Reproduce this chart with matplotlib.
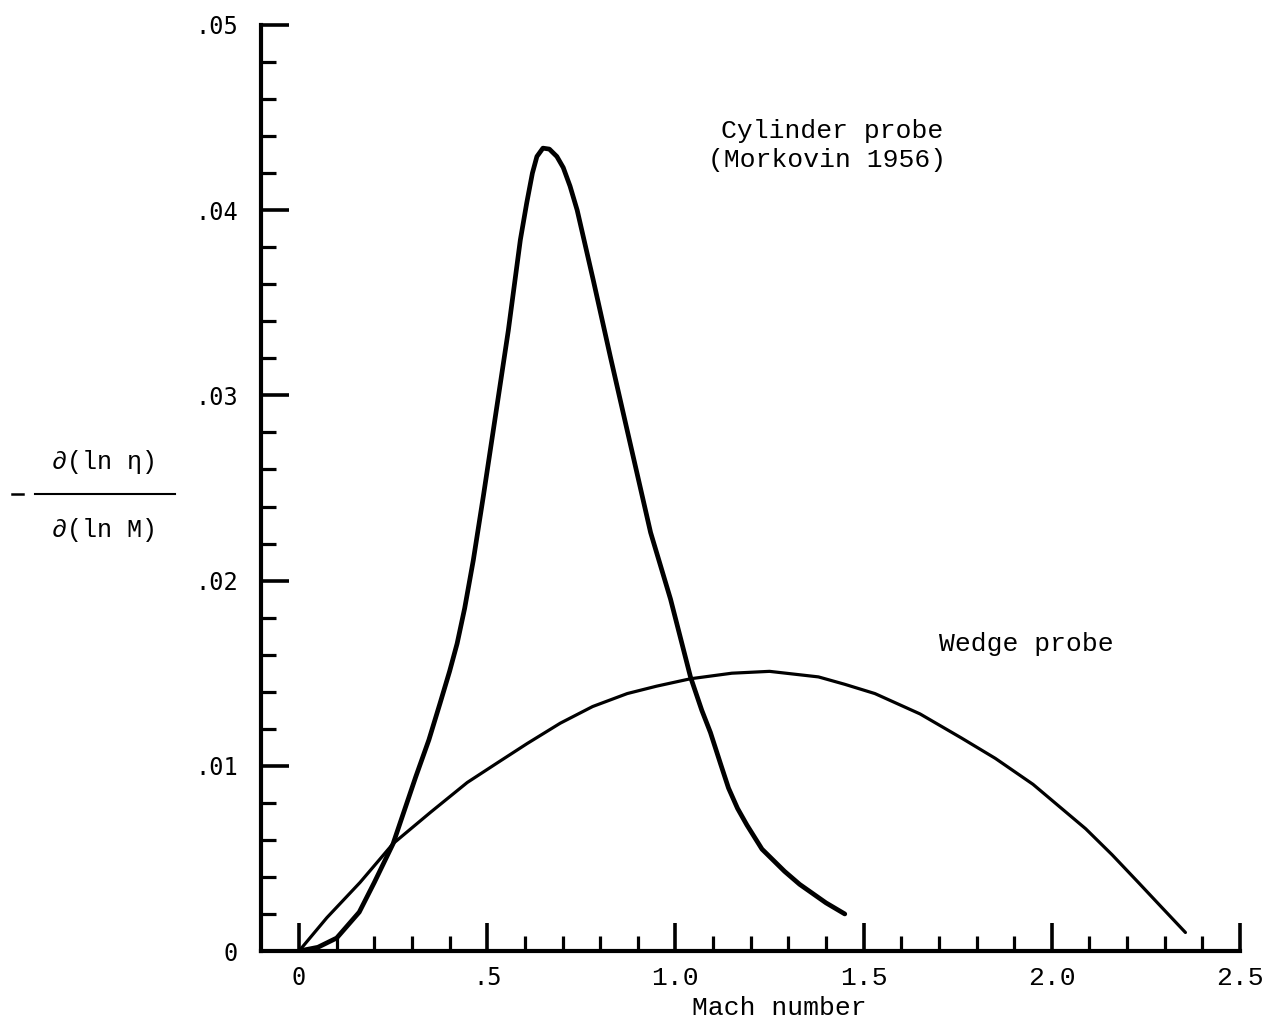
import matplotlib
matplotlib.use('Agg')
import matplotlib.pyplot as plt
import numpy as np
from matplotlib.lines import Line2D

# values
cyl_mach = [0, 0.05, 0.10, 0.16, 0.20, 0.25, 0.31, 0.345, 0.375, 0.40, 0.42, 0.44, 0.463,
            0.49, 0.516, 0.556, 0.588, 0.605, 0.62, 0.632, 0.648, 0.665, 0.685, 0.702,
            0.72, 0.739, 0.782, 0.827, 0.872, 0.934, 0.987, 1.04, 1.07, 1.093, 1.12,
            1.141, 1.165, 1.19, 1.23, 1.29, 1.33, 1.40, 1.45]
cyl_val = [0, 0.0002, 0.0007, 0.0021, 0.0037, 0.0058, 0.0094, 0.0114, 0.0134, 0.0151,
           0.0166, 0.0185, 0.0211, 0.0246, 0.0281, 0.0335, 0.0384, 0.0404, 0.0420,
           0.0429, 0.04335, 0.0433, 0.0429, 0.0423, 0.0413, 0.0400, 0.0362, 0.0321,
           0.0281, 0.0226, 0.0190, 0.0148, 0.0130, 0.0118, 0.0101, 0.0088, 0.0077,
           0.0068, 0.0055, 0.0043, 0.0036, 0.0026, 0.0020]

wedge_mach = [0, 0.074, 0.162, 0.25, 0.35, 0.447, 0.53, 0.606, 0.694, 0.78, 0.872, 0.95,
              1.04, 1.15, 1.25, 1.38, 1.45, 1.53, 1.65, 1.76, 1.85, 1.95, 2.02, 2.09,
              2.16, 2.23, 2.29, 2.355]
wedge_val = [0, 0.0018, 0.0037, 0.0058, 0.0075, 0.0091, 0.0102, 0.0112, 0.0123, 0.0132,
             0.0139, 0.0143, 0.0147, 0.0150, 0.0151, 0.0148, 0.0144, 0.0139, 0.0128,
             0.0115, 0.0104, 0.0090, 0.0078, 0.0066, 0.0052, 0.0037, 0.0024, 0.0010]

x_ticks = [0, 0.5, 1.0, 1.5, 2.0, 2.5]
x_labels = ['0', '.5', '1.0', '1.5', '2.0', '2.5']
y_ticks = [0, 0.01, 0.02, 0.03, 0.04, 0.05]
y_labels = ['0', '.01', '.02', '.03', '.04', '.05']

W, H = 1266, 1021
fig = plt.figure(figsize=(W / 100, H / 100), dpi=100)
fig.patch.set_facecolor('white')

x0, x1, y0, y1 = 261.4, 1240, 951, 25
ax = fig.add_axes([x0 / W, (H - y0) / H, (x1 - x0) / W, (y0 - y1) / H])

ax.plot(cyl_mach, cyl_val, color='black', lw=3.4, solid_joinstyle='round', solid_capstyle='round')
ax.plot(wedge_mach, wedge_val, color='black', lw=2.3, solid_joinstyle='round', solid_capstyle='round')

ax.set_xlim(-0.1, 2.5)
ax.set_ylim(0, 0.05)

for s in ['top', 'right']:
    ax.spines[s].set_visible(False)
for s in ['left', 'bottom']:
    ax.spines[s].set_linewidth(3)

ax.set_xticks(x_ticks)
ax.set_xticklabels(x_labels)
ax.set_xticks(np.arange(1, 25) / 10, minor=True)
ax.set_yticks(y_ticks)
ax.set_yticklabels(y_labels)
ax.set_yticks(np.arange(1, 25) * 0.002, minor=True)

ax.tick_params(which='major', direction='in', length=20, width=2.6, pad=11)
ax.tick_params(which='minor', direction='in', length=11, width=2.3)
ax.tick_params(axis='y', pad=17)

mono = ['Liberation Mono', 'DejaVu Sans Mono']
for lab in ax.get_xticklabels():
    if lab.get_text() in ('0', '.5'):
        lab.set_fontfamily('DejaVu Sans Mono')
        lab.set_fontsize(17)
    else:
        lab.set_fontfamily(mono)
        lab.set_fontsize(19)
for lab in ax.get_yticklabels():
    lab.set_fontfamily('DejaVu Sans Mono')
    lab.set_fontsize(17)

ax.text(1.416, 0.0443, 'Cylinder probe', ha='center', va='center', fontsize=19, family=mono)
ax.text(1.403, 0.0427, '(Morkovin 1956)', ha='center', va='center', fontsize=19, family=mono)
ax.text(1.932, 0.0166, 'Wedge probe', ha='center', va='center', fontsize=19, family=mono)

fig.text(779 / W, 1 - 1008 / H, 'Mach number', ha='center', va='center', fontsize=19, family=mono)

# y axis label as a fraction
fig.text(105 / W, 1 - 462 / H, '\u2202(ln \u03b7)', ha='center', va='center', fontsize=18, family=mono)
fig.text(105 / W, 1 - 530 / H, '\u2202(ln M)', ha='center', va='center', fontsize=18, family=mono)
fig.add_artist(Line2D([35 / W, 175 / W], [1 - 494 / H, 1 - 494 / H], color='black', lw=1.5,
                      transform=fig.transFigure))
fig.add_artist(Line2D([12 / W, 23 / W], [1 - 494 / H, 1 - 494 / H], color='black', lw=1.8,
                      transform=fig.transFigure))

fig.savefig('out.png', dpi=100)
